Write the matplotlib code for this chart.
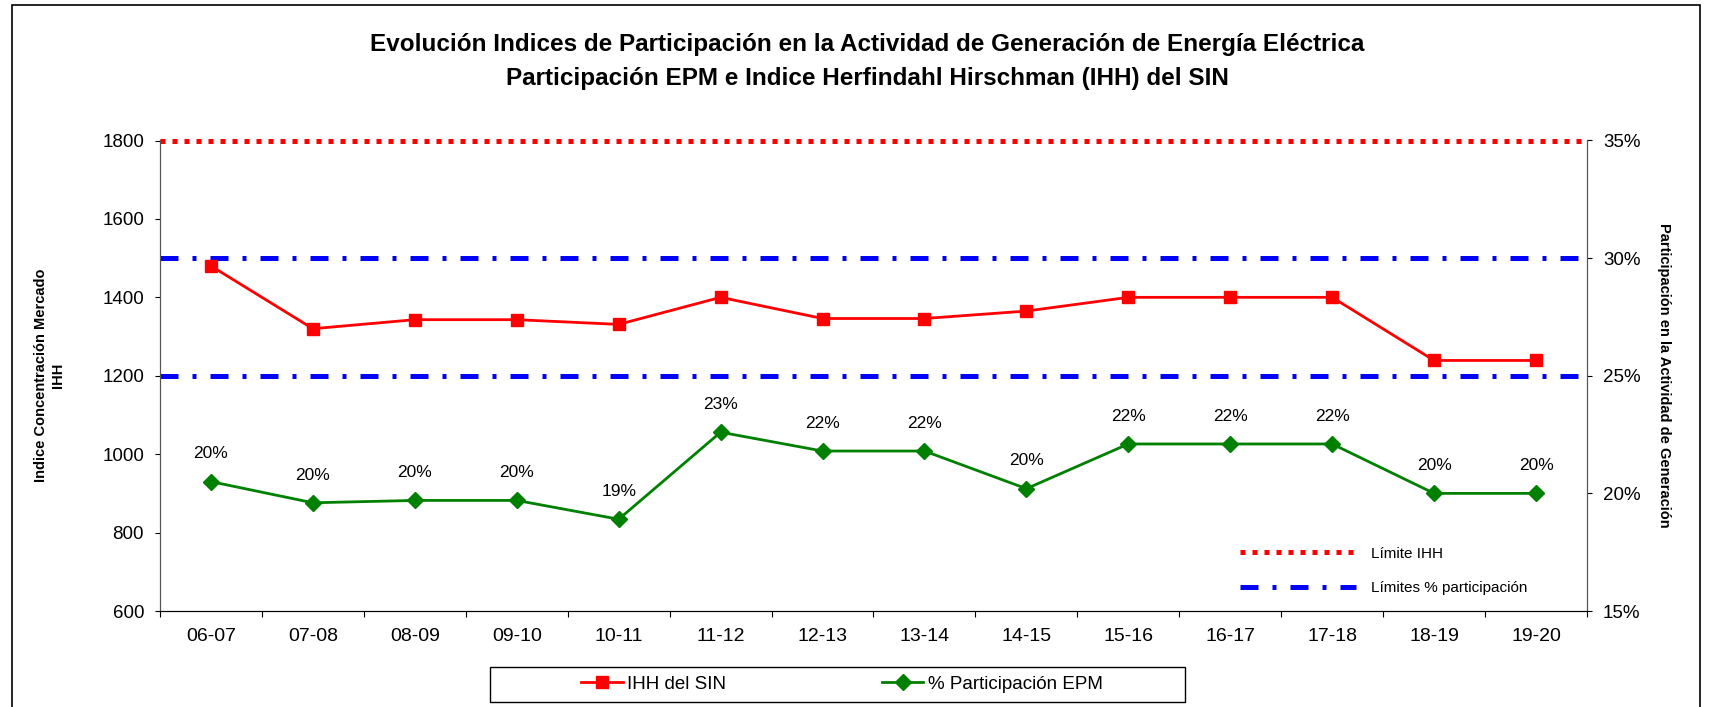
import numpy as np
import matplotlib
matplotlib.use('Agg')
import matplotlib.pyplot as plt
from matplotlib.lines import Line2D
from matplotlib.patches import Rectangle

plt.rcParams['font.family'] = ['Liberation Sans', 'DejaVu Sans']

# datos
periodos = ['06-07', '07-08', '08-09', '09-10', '10-11', '11-12', '12-13',
            '13-14', '14-15', '15-16', '16-17', '17-18', '18-19', '19-20']
ihh_sin = [1480, 1320, 1343, 1343, 1331, 1400, 1346, 1346, 1365, 1400, 1400, 1400, 1239, 1239]
part_epm = [20.5, 19.6, 19.7, 19.7, 18.9, 22.6, 21.8, 21.8, 20.2, 22.1, 22.1, 22.1, 20.0, 20.0]
limite_ihh = 1800
limites_part = [30, 25]

x = np.arange(len(periodos))

W, H = 1709, 707
fig = plt.figure(figsize=(W / 100, H / 100), dpi=100)
ax1 = fig.add_axes([160 / W, 1 - 611 / H, 1427 / W, 470.5 / H])
ax2 = ax1.twinx()
# IHH encima de la participación
ax1.set_zorder(ax2.get_zorder() + 1)
ax1.patch.set_visible(False)

# marco exterior
fig.patches.append(Rectangle((12 / W, -0.02), 1688 / W, 1.02 - 5 / H,
                             transform=fig.transFigure, fill=False,
                             edgecolor='black', lw=1.2))

# lineas limite
l_ihh = ax1.axhline(limite_ihh, color='#ff0000', lw=3.6, dashes=(1, 1.4), clip_on=False)
l_part = None
for lim in limites_part:
    l_part = ax2.axhline(lim, color='#0000ff', lw=3.6, dashes=(3.6, 2.8, 0.8, 2.8))

ax1.plot(x, ihh_sin, color='#ff0000', lw=2, marker='s', markersize=9, zorder=5)
ax2.plot(x, part_epm, color='#008000', lw=2, marker='D', markersize=8, zorder=5)

for xi, v in zip(x, part_epm):
    ax2.annotate(f'{v:.0f}%', (xi, v), xytext=(0, 20), textcoords='offset points',
                 ha='center', va='center', fontsize=12.5)

ax1.set_xlim(-0.5, len(periodos) - 0.5)
ax1.set_ylim(600, 1800)
ax1.set_yticks(np.arange(600, 1801, 200))
ax2.set_ylim(15, 35)
ax2.set_yticks([15, 20, 25, 30, 35])
ax2.set_yticklabels([f'{t}%' for t in [15, 20, 25, 30, 35]])

ax1.set_xticks(np.arange(-0.5, len(periodos), 1))
ax1.set_xticklabels([])
ax1.set_xticks(x, minor=True)
ax1.set_xticklabels(periodos, minor=True)
ax1.tick_params(axis='x', which='minor', length=0, pad=12, labelsize=14)
ax1.tick_params(axis='x', which='major', length=4, direction='out')
ax1.tick_params(axis='y', labelsize=13.5, length=3.5, pad=8)
ax2.tick_params(axis='y', labelsize=13.5, length=3.5, pad=8)

for a in (ax1, ax2):
    a.spines['top'].set_visible(False)
    a.spines['left'].set_color('#555555')
    a.spines['right'].set_color('#555555')
    a.spines['bottom'].set_color('black')

ax1.set_ylabel('Indice Concentración Mercado\nIHH', fontsize=10.5, fontweight='bold', labelpad=27)
ax2.set_ylabel('Participación en la Actividad de Generación', fontsize=10.5,
               fontweight='bold', rotation=270, labelpad=22)

fig.text(867 / W, 1 - 45 / H, 'Evolución Indices de Participación en la Actividad de Generación de Energía Eléctrica',
         ha='center', va='center', fontsize=17.5, fontweight='bold')
fig.text(867 / W, 1 - 78 / H, 'Participación EPM e Indice Herfindahl Hirschman (IHH) del SIN',
         ha='center', va='center', fontsize=17.5, fontweight='bold')

# leyenda de limites
ax1.legend([l_ihh, l_part], ['Límite IHH', 'Límites % participación'],
           loc='upper left', bbox_to_anchor=(1232 / W, 1 - 539 / H),
           bbox_transform=fig.transFigure, frameon=False, fontsize=11,
           handlelength=7.6, handletextpad=1.0, labelspacing=1.35, borderpad=0)

# leyenda inferior
h1 = Line2D([], [], color='#ff0000', lw=2, marker='s', markersize=9)
h2 = Line2D([], [], color='#008000', lw=2, marker='D', markersize=8)
fig.patches.append(Rectangle((490 / W, 1 - 702 / H), 695 / W, 35 / H,
                             transform=fig.transFigure, fill=False,
                             edgecolor='black', lw=1))
fig.legend([h1, h2], ['IHH del SIN', '% Participación EPM'], loc='center left',
           bbox_to_anchor=(572 / W, 1 - 684 / H), ncol=2, frameon=False,
           fontsize=13.5, handlelength=2.2, handletextpad=0.25, columnspacing=8.3,
           borderpad=0)

fig.savefig('out.png', dpi=100)
